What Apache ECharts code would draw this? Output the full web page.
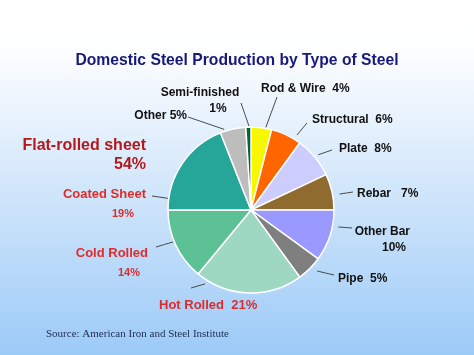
<!DOCTYPE html>
<html>
<head>
<meta charset="utf-8">
<script src="https://cdn.jsdelivr.net/npm/echarts@6/dist/echarts.min.js"></script>
<style>
html,body{margin:0;padding:0;}
#chart{width:474px;height:355px;}
</style>
</head>
<body>
<div id="chart"></div>
<script>
// ---- data ----
const categories = ['Rod & Wire', 'Structural', 'Plate', 'Rebar', 'Other Bar', 'Pipe',
  'Hot Rolled', 'Cold Rolled', 'Coated Sheet', 'Other', 'Semi-finished'];
const values = [4, 6, 8, 7, 10, 5, 21, 14, 19, 5, 1];
const flatRolledLabel = 'Flat-rolled sheet';
const flatRolledShare = '54%';
const titleText = 'Domestic Steel Production by Type of Steel';
const sourceText = 'Source: American Iron and Steel Institute';

// ---- styles / layout ----
const colors = ['#f7f700', '#ff6600', '#ccccff', '#8f6b30', '#9999ff', '#7f7f7f',
  '#9fd8c2', '#5cc194', '#26a699', '#bdbdbd', '#006633'];
const flatGroup = [false, false, false, false, false, false, true, true, true, false, false];
const PIE_CX = 251, PIE_CY = 210, PIE_R = 83;
// label layout: [x, y, align, twoLine, secondLinePad]
const labelPos = [
  [261, 89, 'left', false, 0],
  [312, 120, 'left', false, 0],
  [339, 149, 'left', false, 0],
  [357, 194, 'left', false, 0],
  [410, 240, 'right', true, 4],
  [338, 279, 'left', false, 0],
  [159, 305, 'left', false, 0],
  [148, 263, 'right', true, 8],
  [146, 204, 'right', true, 12],
  [187, 116, 'right', false, 0],
  [200, 101, 'center', true, 36]
];
// leader lines: [angle on pie (deg clockwise from top), gap outside pie, outer end x, outer end y]
const leaders = [
  [10.2, 1, 277, 97],
  [31.5, 5, 307, 123],
  [50.6, 4, 332, 150],
  [79.8, 7, 353, 192],
  [101, 6, 352, 228],
  [132.7, 7, 334, 275],
  [211.9, 4, 191, 288],
  [247.7, 1, 156, 247],
  [278, 1, 152, 196],
  [341.6, 2, 188, 117],
  [358.6, 1, 241, 103]
];
const gaps = ['  ', '  ', '  ', '   ', '', '  ', '  ', '', '', ' ', ''];
const FONT = 'Liberation Sans, Arial, sans-serif';

const chart = echarts.init(document.getElementById('chart'));

const data = categories.map((c, i) => {
  const lp = labelPos[i];
  const red = flatGroup[i];
  const pct = values[i] + '%';
  const fmt = lp[3] ? '{a|' + c + '}\n{b|' + pct + '}' : '{a|' + c + gaps[i] + pct + '}';
  let bPad = [0, 0, 0, 0];
  if (lp[2] === 'right') bPad = [0, lp[4], 0, 0];
  if (lp[2] === 'center') bPad = [0, 0, 0, lp[4]];
  const lh = red ? 19 : 16;
  const col = red ? '#de2c2c' : '#111111';
  return {
    name: c,
    value: values[i],
    itemStyle: { color: colors[i] },
    label: {
      formatter: fmt,
      rich: {
        a: { fontFamily: FONT, fontWeight: 'bold', fontSize: red ? 13 : 12, color: col, lineHeight: lh },
        b: { fontFamily: FONT, fontWeight: 'bold', fontSize: red ? 11 : 12, color: col, lineHeight: lh, padding: bPad }
      }
    }
  };
});

chart.setOption({
  animation: false,
  backgroundColor: {
    type: 'linear', x: 0, y: 0, x2: 0, y2: 1,
    colorStops: [
      { offset: 0, color: '#ffffff' },
      { offset: 0.14, color: '#fdfeff' },
      { offset: 0.5, color: '#d5e8fb' },
      { offset: 1, color: '#9ccaf7' }
    ]
  },
  title: [
    {
      text: titleText,
      left: 'center',
      top: 48,
      textStyle: { fontFamily: FONT, fontWeight: 'bold', fontSize: 15.7, color: '#17197a' }
    },
    {
      text: sourceText,
      left: 41,
      top: 324,
      textStyle: { fontFamily: 'Liberation Serif, Times New Roman, serif', fontWeight: 'normal', fontSize: 11, color: '#1f2d4f' }
    }
  ],
  graphic: [{
    type: 'text',
    x: 146,
    y: 155.5,
    style: {
      text: flatRolledLabel + '\n' + flatRolledShare,
      align: 'right',
      verticalAlign: 'middle',
      fontFamily: FONT,
      fontWeight: 'bold',
      fontSize: 16,
      lineHeight: 19,
      fill: '#b3191c'
    }
  }],
  series: [{
    type: 'pie',
    center: [PIE_CX, PIE_CY],
    radius: PIE_R,
    startAngle: 90,
    clockwise: true,
    avoidLabelOverlap: false,
    itemStyle: { borderColor: '#ffffff', borderWidth: 1.5 },
    label: { show: true, position: 'outside' },
    labelLine: { show: true, length: 6, length2: 4, smooth: false, lineStyle: { color: '#4a4a4a', width: 1 } },
    labelLayout: function (params) {
      const i = params.dataIndex;
      const p = labelPos[i];
      const L = leaders[i];
      const a = L[0] * Math.PI / 180;
      const rr = PIE_R + L[1];
      const x0 = PIE_CX + rr * Math.sin(a);
      const y0 = PIE_CY - rr * Math.cos(a);
      const x2 = L[2], y2 = L[3];
      return {
        x: p[0], y: p[1], align: p[2], verticalAlign: 'middle',
        labelLinePoints: [[x0, y0], [(x0 + x2) / 2, (y0 + y2) / 2], [x2, y2]]
      };
    },
    data: data
  }]
});
</script>
</body>
</html>
